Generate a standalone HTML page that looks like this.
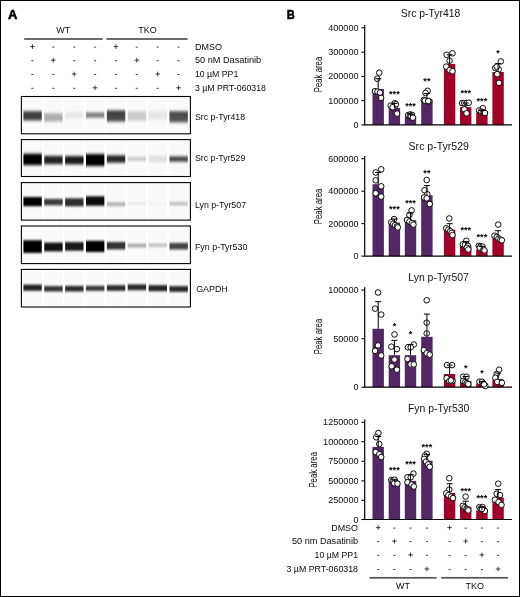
<!DOCTYPE html>
<html lang="en"><head><meta charset="utf-8"><title>Figure</title>
<style>
html,body{margin:0;padding:0;background:#fff;}
#fig{position:relative;width:520px;height:597px;box-sizing:border-box;border:1px solid #000;background:#fff;overflow:hidden;}
#fig svg{position:absolute;left:-1px;top:-1px;will-change:transform;}
text{font-family:"Liberation Sans", Arial, sans-serif;}
</style></head><body>
<div id="fig">
<svg width="520" height="597" viewBox="0 0 520 597">
<text x="8.10" y="18.90" font-size="13.5" text-anchor="start" font-weight="bold" fill="#000" textLength="9.4" lengthAdjust="spacingAndGlyphs" stroke="#000" stroke-width="0.55">A</text>
<text x="286.70" y="19.20" font-size="13.5" text-anchor="start" font-weight="bold" fill="#000" textLength="8.0" lengthAdjust="spacingAndGlyphs" stroke="#000" stroke-width="0.55">B</text>
<text x="63.30" y="33.30" font-size="9" text-anchor="middle" font-weight="normal" fill="#0a0a0a" >WT</text>
<text x="147.40" y="33.30" font-size="9" text-anchor="middle" font-weight="normal" fill="#0a0a0a" >TKO</text>
<rect x="24.2" y="38.15" width="78.4" height="1.7" fill="#555"/>
<rect x="106.4" y="38.15" width="81.2" height="1.7" fill="#555"/>
<path d="M30.14 46.60h4.6M32.44 44.30v4.6" stroke="#2a2a2a" stroke-width="0.9" fill="none"/>
<path d="M52.20 47.10h2.2" stroke="#333" stroke-width="0.9" fill="none"/>
<path d="M73.08 47.10h2.2" stroke="#333" stroke-width="0.9" fill="none"/>
<path d="M93.94 47.10h2.2" stroke="#333" stroke-width="0.9" fill="none"/>
<path d="M113.61 46.60h4.6M115.91 44.30v4.6" stroke="#2a2a2a" stroke-width="0.9" fill="none"/>
<path d="M135.69 47.10h2.2" stroke="#333" stroke-width="0.9" fill="none"/>
<path d="M156.56 47.10h2.2" stroke="#333" stroke-width="0.9" fill="none"/>
<path d="M177.43 47.10h2.2" stroke="#333" stroke-width="0.9" fill="none"/>
<path d="M31.34 60.70h2.2" stroke="#333" stroke-width="0.9" fill="none"/>
<path d="M51.01 60.20h4.6M53.30 57.90v4.6" stroke="#2a2a2a" stroke-width="0.9" fill="none"/>
<path d="M73.08 60.70h2.2" stroke="#333" stroke-width="0.9" fill="none"/>
<path d="M93.94 60.70h2.2" stroke="#333" stroke-width="0.9" fill="none"/>
<path d="M114.81 60.70h2.2" stroke="#333" stroke-width="0.9" fill="none"/>
<path d="M134.48 60.20h4.6M136.78 57.90v4.6" stroke="#2a2a2a" stroke-width="0.9" fill="none"/>
<path d="M156.56 60.70h2.2" stroke="#333" stroke-width="0.9" fill="none"/>
<path d="M177.43 60.70h2.2" stroke="#333" stroke-width="0.9" fill="none"/>
<path d="M31.34 74.50h2.2" stroke="#333" stroke-width="0.9" fill="none"/>
<path d="M52.20 74.50h2.2" stroke="#333" stroke-width="0.9" fill="none"/>
<path d="M71.88 74.00h4.6M74.17 71.70v4.6" stroke="#2a2a2a" stroke-width="0.9" fill="none"/>
<path d="M93.94 74.50h2.2" stroke="#333" stroke-width="0.9" fill="none"/>
<path d="M114.81 74.50h2.2" stroke="#333" stroke-width="0.9" fill="none"/>
<path d="M135.69 74.50h2.2" stroke="#333" stroke-width="0.9" fill="none"/>
<path d="M155.35 74.00h4.6M157.66 71.70v4.6" stroke="#2a2a2a" stroke-width="0.9" fill="none"/>
<path d="M177.43 74.50h2.2" stroke="#333" stroke-width="0.9" fill="none"/>
<path d="M31.34 88.30h2.2" stroke="#333" stroke-width="0.9" fill="none"/>
<path d="M52.20 88.30h2.2" stroke="#333" stroke-width="0.9" fill="none"/>
<path d="M73.08 88.30h2.2" stroke="#333" stroke-width="0.9" fill="none"/>
<path d="M92.74 87.80h4.6M95.04 85.50v4.6" stroke="#2a2a2a" stroke-width="0.9" fill="none"/>
<path d="M114.81 88.30h2.2" stroke="#333" stroke-width="0.9" fill="none"/>
<path d="M135.69 88.30h2.2" stroke="#333" stroke-width="0.9" fill="none"/>
<path d="M156.56 88.30h2.2" stroke="#333" stroke-width="0.9" fill="none"/>
<path d="M176.22 87.80h4.6M178.53 85.50v4.6" stroke="#2a2a2a" stroke-width="0.9" fill="none"/>
<text x="194.90" y="49.50" font-size="8.7" text-anchor="start" font-weight="normal" fill="#0a0a0a" textLength="27.0" lengthAdjust="spacingAndGlyphs">DMSO</text>
<text x="194.90" y="63.00" font-size="8.7" text-anchor="start" font-weight="normal" fill="#0a0a0a" textLength="66.3" lengthAdjust="spacingAndGlyphs">50 nM Dasatinib</text>
<text x="194.90" y="76.80" font-size="8.7" text-anchor="start" font-weight="normal" fill="#0a0a0a" textLength="43.4" lengthAdjust="spacingAndGlyphs">10 µM PP1</text>
<text x="194.90" y="90.60" font-size="8.7" text-anchor="start" font-weight="normal" fill="#0a0a0a" textLength="71.1" lengthAdjust="spacingAndGlyphs">3 µM PRT-060318</text>
<defs><filter id="f0" x="-10%" y="-150%" width="120%" height="400%"><feGaussianBlur stdDeviation="0.55 1.8"/></filter><filter id="f1" x="-10%" y="-150%" width="120%" height="400%"><feGaussianBlur stdDeviation="0.55 1.5"/></filter><filter id="f2" x="-10%" y="-150%" width="120%" height="400%"><feGaussianBlur stdDeviation="0.55 1.0"/></filter><filter id="f3" x="-10%" y="-150%" width="120%" height="400%"><feGaussianBlur stdDeviation="0.55 1.2"/></filter><filter id="f4" x="-10%" y="-150%" width="120%" height="400%"><feGaussianBlur stdDeviation="0.55 0.8"/></filter></defs>
<rect x="21.4" y="96.5" width="169" height="37.30" fill="#ffffff"/>
<rect x="22.80" y="97.70" width="19.07" height="34.90" fill="#fafafa"/>
<rect x="43.67" y="97.70" width="19.07" height="34.90" fill="#fafafa"/>
<rect x="64.54" y="97.70" width="19.07" height="34.90" fill="#fafafa"/>
<rect x="85.41" y="97.70" width="19.07" height="34.90" fill="#fafafa"/>
<rect x="106.28" y="97.70" width="19.07" height="34.90" fill="#fafafa"/>
<rect x="127.15" y="97.70" width="19.07" height="34.90" fill="#fafafa"/>
<rect x="148.02" y="97.70" width="19.07" height="34.90" fill="#fafafa"/>
<rect x="168.89" y="97.70" width="19.07" height="34.90" fill="#fafafa"/>
<rect x="23.40" y="111.20" width="18.37" height="9.20" fill="#000" fill-opacity="0.74" filter="url(#f0)"/>
<rect x="44.27" y="113.30" width="18.37" height="8.20" fill="#000" fill-opacity="0.31" filter="url(#f0)"/>
<rect x="65.14" y="112.40" width="18.37" height="6.00" fill="#000" fill-opacity="0.08" filter="url(#f0)"/>
<rect x="86.01" y="112.50" width="18.37" height="5.20" fill="#000" fill-opacity="0.5" filter="url(#f0)"/>
<rect x="106.88" y="110.50" width="18.37" height="11.00" fill="#000" fill-opacity="0.7" filter="url(#f0)"/>
<rect x="106.88" y="111.20" width="18.37" height="4.40" fill="#000" fill-opacity="0.18" filter="url(#f0)"/>
<rect x="127.75" y="111.50" width="18.37" height="9.00" fill="#000" fill-opacity="0.19" filter="url(#f0)"/>
<rect x="148.62" y="111.50" width="18.37" height="8.00" fill="#000" fill-opacity="0.08" filter="url(#f0)"/>
<rect x="169.49" y="111.30" width="18.37" height="11.00" fill="#000" fill-opacity="0.66" filter="url(#f0)"/>
<rect x="169.49" y="112.20" width="18.37" height="4.40" fill="#000" fill-opacity="0.15" filter="url(#f0)"/>
<rect x="21.4" y="96.5" width="169" height="37.30" fill="none" stroke="#000" stroke-width="1.1"/>
<text x="194.90" y="119.50" font-size="8.7" text-anchor="start" font-weight="normal" fill="#0a0a0a" textLength="50.2" lengthAdjust="spacingAndGlyphs">Src p-Tyr418</text>
<rect x="21.4" y="139.6" width="169" height="36.90" fill="#ffffff"/>
<rect x="22.80" y="140.80" width="19.07" height="34.50" fill="#fafafa"/>
<rect x="43.67" y="140.80" width="19.07" height="34.50" fill="#fafafa"/>
<rect x="64.54" y="140.80" width="19.07" height="34.50" fill="#fafafa"/>
<rect x="85.41" y="140.80" width="19.07" height="34.50" fill="#fafafa"/>
<rect x="106.28" y="140.80" width="19.07" height="34.50" fill="#fafafa"/>
<rect x="127.15" y="140.80" width="19.07" height="34.50" fill="#fafafa"/>
<rect x="148.02" y="140.80" width="19.07" height="34.50" fill="#fafafa"/>
<rect x="168.89" y="140.80" width="19.07" height="34.50" fill="#fafafa"/>
<rect x="23.40" y="153.70" width="18.37" height="11.40" fill="#000" fill-opacity="1.0" filter="url(#f1)"/>
<rect x="44.27" y="155.90" width="18.37" height="8.20" fill="#000" fill-opacity="0.86" filter="url(#f1)"/>
<rect x="65.14" y="156.10" width="18.37" height="8.20" fill="#000" fill-opacity="0.9" filter="url(#f1)"/>
<rect x="86.01" y="154.00" width="18.37" height="12.00" fill="#000" fill-opacity="1.0" filter="url(#f1)"/>
<rect x="106.88" y="155.40" width="18.37" height="7.20" fill="#000" fill-opacity="0.86" filter="url(#f1)"/>
<rect x="127.75" y="157.50" width="18.37" height="3.00" fill="#000" fill-opacity="0.26" filter="url(#f1)"/>
<rect x="148.62" y="155.80" width="18.37" height="6.40" fill="#000" fill-opacity="0.1" filter="url(#f1)"/>
<rect x="169.49" y="156.40" width="18.37" height="5.20" fill="#000" fill-opacity="0.74" filter="url(#f1)"/>
<rect x="21.4" y="139.6" width="169" height="36.90" fill="none" stroke="#000" stroke-width="1.1"/>
<text x="194.90" y="161.40" font-size="8.7" text-anchor="start" font-weight="normal" fill="#0a0a0a" textLength="50.4" lengthAdjust="spacingAndGlyphs">Src p-Tyr529</text>
<rect x="21.4" y="182.6" width="169" height="37.50" fill="#ffffff"/>
<rect x="22.80" y="183.80" width="19.07" height="35.10" fill="#fafafa"/>
<rect x="43.67" y="183.80" width="19.07" height="35.10" fill="#fafafa"/>
<rect x="64.54" y="183.80" width="19.07" height="35.10" fill="#fafafa"/>
<rect x="85.41" y="183.80" width="19.07" height="35.10" fill="#fafafa"/>
<rect x="106.28" y="183.80" width="19.07" height="35.10" fill="#fafafa"/>
<rect x="127.15" y="183.80" width="19.07" height="35.10" fill="#fafafa"/>
<rect x="148.02" y="183.80" width="19.07" height="35.10" fill="#fafafa"/>
<rect x="168.89" y="183.80" width="19.07" height="35.10" fill="#fafafa"/>
<rect x="23.40" y="197.00" width="18.37" height="9.20" fill="#000" fill-opacity="1.0" filter="url(#f2)"/>
<rect x="44.27" y="198.90" width="18.37" height="6.40" fill="#000" fill-opacity="0.76" filter="url(#f2)"/>
<rect x="65.14" y="198.30" width="18.37" height="8.00" fill="#000" fill-opacity="0.82" filter="url(#f2)"/>
<rect x="86.01" y="196.30" width="18.37" height="9.40" fill="#000" fill-opacity="0.96" filter="url(#f2)"/>
<rect x="106.88" y="202.10" width="18.37" height="4.20" fill="#000" fill-opacity="0.28" filter="url(#f2)"/>
<rect x="127.75" y="201.90" width="18.37" height="3.20" fill="#000" fill-opacity="0.06" filter="url(#f2)"/>
<rect x="148.62" y="202.00" width="18.37" height="3.00" fill="#000" fill-opacity="0.03" filter="url(#f2)"/>
<rect x="169.49" y="201.90" width="18.37" height="3.60" fill="#000" fill-opacity="0.23" filter="url(#f2)"/>
<rect x="21.4" y="182.6" width="169" height="37.50" fill="none" stroke="#000" stroke-width="1.1"/>
<text x="194.90" y="207.80" font-size="8.7" text-anchor="start" font-weight="normal" fill="#0a0a0a" textLength="51.2" lengthAdjust="spacingAndGlyphs">Lyn p-Tyr507</text>
<rect x="21.4" y="226.0" width="169" height="37.60" fill="#ffffff"/>
<rect x="22.80" y="227.20" width="19.07" height="35.20" fill="#fafafa"/>
<rect x="43.67" y="227.20" width="19.07" height="35.20" fill="#fafafa"/>
<rect x="64.54" y="227.20" width="19.07" height="35.20" fill="#fafafa"/>
<rect x="85.41" y="227.20" width="19.07" height="35.20" fill="#fafafa"/>
<rect x="106.28" y="227.20" width="19.07" height="35.20" fill="#fafafa"/>
<rect x="127.15" y="227.20" width="19.07" height="35.20" fill="#fafafa"/>
<rect x="148.02" y="227.20" width="19.07" height="35.20" fill="#fafafa"/>
<rect x="168.89" y="227.20" width="19.07" height="35.20" fill="#fafafa"/>
<rect x="23.40" y="240.30" width="18.37" height="12.60" fill="#000" fill-opacity="1.0" filter="url(#f3)"/>
<rect x="44.27" y="242.60" width="18.37" height="8.80" fill="#000" fill-opacity="0.93" filter="url(#f3)"/>
<rect x="65.14" y="242.10" width="18.37" height="8.60" fill="#000" fill-opacity="0.9" filter="url(#f3)"/>
<rect x="86.01" y="240.80" width="18.37" height="11.20" fill="#000" fill-opacity="1.0" filter="url(#f3)"/>
<rect x="106.88" y="242.00" width="18.37" height="7.40" fill="#000" fill-opacity="0.8" filter="url(#f3)"/>
<rect x="127.75" y="243.70" width="18.37" height="3.60" fill="#000" fill-opacity="0.34" filter="url(#f3)"/>
<rect x="148.62" y="243.60" width="18.37" height="3.20" fill="#000" fill-opacity="0.25" filter="url(#f3)"/>
<rect x="169.49" y="242.90" width="18.37" height="6.60" fill="#000" fill-opacity="0.72" filter="url(#f3)"/>
<rect x="21.4" y="226.0" width="169" height="37.60" fill="none" stroke="#000" stroke-width="1.1"/>
<text x="194.90" y="250.40" font-size="8.7" text-anchor="start" font-weight="normal" fill="#0a0a0a" textLength="52.5" lengthAdjust="spacingAndGlyphs">Fyn p-Tyr530</text>
<rect x="21.4" y="269.4" width="169" height="37.60" fill="#ffffff"/>
<rect x="22.80" y="270.60" width="19.07" height="35.20" fill="#fafafa"/>
<rect x="43.67" y="270.60" width="19.07" height="35.20" fill="#fafafa"/>
<rect x="64.54" y="270.60" width="19.07" height="35.20" fill="#fafafa"/>
<rect x="85.41" y="270.60" width="19.07" height="35.20" fill="#fafafa"/>
<rect x="106.28" y="270.60" width="19.07" height="35.20" fill="#fafafa"/>
<rect x="127.15" y="270.60" width="19.07" height="35.20" fill="#fafafa"/>
<rect x="148.02" y="270.60" width="19.07" height="35.20" fill="#fafafa"/>
<rect x="168.89" y="270.60" width="19.07" height="35.20" fill="#fafafa"/>
<rect x="23.40" y="284.60" width="18.37" height="6.20" fill="#000" fill-opacity="0.86" filter="url(#f4)"/>
<rect x="44.27" y="286.10" width="18.37" height="5.40" fill="#000" fill-opacity="0.8" filter="url(#f4)"/>
<rect x="65.14" y="285.90" width="18.37" height="5.60" fill="#000" fill-opacity="0.83" filter="url(#f4)"/>
<rect x="86.01" y="285.80" width="18.37" height="5.00" fill="#000" fill-opacity="0.78" filter="url(#f4)"/>
<rect x="106.88" y="285.20" width="18.37" height="5.60" fill="#000" fill-opacity="0.83" filter="url(#f4)"/>
<rect x="127.75" y="284.40" width="18.37" height="5.80" fill="#000" fill-opacity="0.84" filter="url(#f4)"/>
<rect x="148.62" y="285.20" width="18.37" height="6.00" fill="#000" fill-opacity="0.86" filter="url(#f4)"/>
<rect x="169.49" y="286.10" width="18.37" height="5.80" fill="#000" fill-opacity="0.83" filter="url(#f4)"/>
<rect x="21.4" y="269.4" width="169" height="37.60" fill="none" stroke="#000" stroke-width="1.1"/>
<text x="196.20" y="292.20" font-size="8.7" text-anchor="start" font-weight="normal" fill="#0a0a0a" textLength="31.6" lengthAdjust="spacingAndGlyphs">GAPDH</text>
<text x="400.8" y="17.3" font-size="11.2" fill="#111" textLength="59.6" lengthAdjust="spacingAndGlyphs">Src p-Tyr418</text>
<rect x="372.50" y="89.00" width="11.4" height="35.90" fill="#522763"/>
<rect x="388.70" y="108.00" width="11.4" height="16.90" fill="#522763"/>
<rect x="404.80" y="116.80" width="11.4" height="8.10" fill="#522763"/>
<rect x="421.20" y="99.50" width="11.4" height="25.40" fill="#522763"/>
<rect x="443.90" y="63.90" width="11.4" height="61.00" fill="#a30029"/>
<rect x="460.00" y="107.10" width="11.4" height="17.80" fill="#a30029"/>
<rect x="476.20" y="112.50" width="11.4" height="12.40" fill="#a30029"/>
<rect x="492.40" y="72.00" width="11.4" height="52.90" fill="#a30029"/>
<path d="M364.7 24.90V124.90H512" stroke="#000" stroke-width="1.2" fill="none"/>
<path d="M361.40 27.70H364.7" stroke="#000" stroke-width="1.1" fill="none"/>
<text x="358.5" y="30.70" font-size="8.3" text-anchor="end" fill="#0a0a0a" textLength="30.3" lengthAdjust="spacingAndGlyphs">400000</text>
<path d="M361.40 52.20H364.7" stroke="#000" stroke-width="1.1" fill="none"/>
<text x="358.5" y="55.20" font-size="8.3" text-anchor="end" fill="#0a0a0a" textLength="30.3" lengthAdjust="spacingAndGlyphs">300000</text>
<path d="M361.40 76.40H364.7" stroke="#000" stroke-width="1.1" fill="none"/>
<text x="358.5" y="79.40" font-size="8.3" text-anchor="end" fill="#0a0a0a" textLength="30.3" lengthAdjust="spacingAndGlyphs">200000</text>
<path d="M361.40 100.60H364.7" stroke="#000" stroke-width="1.1" fill="none"/>
<text x="358.5" y="103.60" font-size="8.3" text-anchor="end" fill="#0a0a0a" textLength="30.3" lengthAdjust="spacingAndGlyphs">100000</text>
<path d="M361.40 124.90H364.7" stroke="#000" stroke-width="1.1" fill="none"/>
<text x="358.5" y="127.90" font-size="8.3" text-anchor="end" fill="#0a0a0a" textLength="5.0" lengthAdjust="spacingAndGlyphs">0</text>
<text transform="translate(321.80 74.50) rotate(-90)" font-size="10.2" text-anchor="middle" fill="#0a0a0a" textLength="35.6" lengthAdjust="spacingAndGlyphs">Peak area</text>
<circle cx="379.2" cy="72.7" r="2.8" fill="#fff" stroke="#000" stroke-width="0.95"/>
<circle cx="377.2" cy="78.7" r="2.8" fill="#fff" stroke="#000" stroke-width="0.95"/>
<circle cx="375.0" cy="91.2" r="2.8" fill="#fff" stroke="#000" stroke-width="0.95"/>
<circle cx="377.5" cy="91.6" r="2.8" fill="#fff" stroke="#000" stroke-width="0.95"/>
<circle cx="380.0" cy="92.6" r="2.8" fill="#fff" stroke="#000" stroke-width="0.95"/>
<circle cx="381.1" cy="97.9" r="2.8" fill="#fff" stroke="#000" stroke-width="0.95"/>
<circle cx="390.7" cy="105.6" r="2.8" fill="#fff" stroke="#000" stroke-width="0.95"/>
<circle cx="394.8" cy="103.2" r="2.8" fill="#fff" stroke="#000" stroke-width="0.95"/>
<circle cx="394.8" cy="106.4" r="2.8" fill="#fff" stroke="#000" stroke-width="0.95"/>
<circle cx="395.9" cy="104.3" r="2.8" fill="#fff" stroke="#000" stroke-width="0.95"/>
<circle cx="392.6" cy="107.2" r="2.8" fill="#fff" stroke="#000" stroke-width="0.95"/>
<circle cx="397.1" cy="113.6" r="2.8" fill="#fff" stroke="#000" stroke-width="0.95"/>
<circle cx="408.2" cy="115.0" r="2.8" fill="#fff" stroke="#000" stroke-width="0.95"/>
<circle cx="410.4" cy="114.4" r="2.8" fill="#fff" stroke="#000" stroke-width="0.95"/>
<circle cx="412.0" cy="115.0" r="2.8" fill="#fff" stroke="#000" stroke-width="0.95"/>
<circle cx="409.8" cy="116.1" r="2.8" fill="#fff" stroke="#000" stroke-width="0.95"/>
<circle cx="411.2" cy="116.4" r="2.8" fill="#fff" stroke="#000" stroke-width="0.95"/>
<circle cx="412.9" cy="117.7" r="2.8" fill="#fff" stroke="#000" stroke-width="0.95"/>
<circle cx="427.6" cy="90.8" r="2.8" fill="#fff" stroke="#000" stroke-width="0.95"/>
<circle cx="425.5" cy="92.9" r="2.8" fill="#fff" stroke="#000" stroke-width="0.95"/>
<circle cx="423.8" cy="99.9" r="2.8" fill="#fff" stroke="#000" stroke-width="0.95"/>
<circle cx="429.2" cy="101.5" r="2.8" fill="#fff" stroke="#000" stroke-width="0.95"/>
<circle cx="424.9" cy="100.6" r="2.8" fill="#fff" stroke="#000" stroke-width="0.95"/>
<circle cx="428.2" cy="101.0" r="2.8" fill="#fff" stroke="#000" stroke-width="0.95"/>
<circle cx="446.6" cy="54.8" r="2.8" fill="#fff" stroke="#000" stroke-width="0.95"/>
<circle cx="452.5" cy="53.3" r="2.8" fill="#fff" stroke="#000" stroke-width="0.95"/>
<circle cx="449.6" cy="60.7" r="2.8" fill="#fff" stroke="#000" stroke-width="0.95"/>
<circle cx="446.2" cy="66.6" r="2.8" fill="#fff" stroke="#000" stroke-width="0.95"/>
<circle cx="449.6" cy="70.2" r="2.8" fill="#fff" stroke="#000" stroke-width="0.95"/>
<circle cx="452.5" cy="71.3" r="2.8" fill="#fff" stroke="#000" stroke-width="0.95"/>
<circle cx="462.1" cy="103.1" r="2.8" fill="#fff" stroke="#000" stroke-width="0.95"/>
<circle cx="464.3" cy="103.1" r="2.8" fill="#fff" stroke="#000" stroke-width="0.95"/>
<circle cx="466.6" cy="103.1" r="2.8" fill="#fff" stroke="#000" stroke-width="0.95"/>
<circle cx="468.8" cy="102.7" r="2.8" fill="#fff" stroke="#000" stroke-width="0.95"/>
<circle cx="464.3" cy="109.3" r="2.8" fill="#fff" stroke="#000" stroke-width="0.95"/>
<circle cx="466.6" cy="113.3" r="2.8" fill="#fff" stroke="#000" stroke-width="0.95"/>
<circle cx="482.8" cy="108.2" r="2.8" fill="#fff" stroke="#000" stroke-width="0.95"/>
<circle cx="479.1" cy="110.5" r="2.8" fill="#fff" stroke="#000" stroke-width="0.95"/>
<circle cx="481.0" cy="111.6" r="2.8" fill="#fff" stroke="#000" stroke-width="0.95"/>
<circle cx="482.8" cy="112.3" r="2.8" fill="#fff" stroke="#000" stroke-width="0.95"/>
<circle cx="484.3" cy="113.0" r="2.8" fill="#fff" stroke="#000" stroke-width="0.95"/>
<circle cx="485.0" cy="113.0" r="2.8" fill="#fff" stroke="#000" stroke-width="0.95"/>
<circle cx="500.8" cy="61.4" r="2.8" fill="#fff" stroke="#000" stroke-width="0.95"/>
<circle cx="495.3" cy="68.0" r="2.8" fill="#fff" stroke="#000" stroke-width="0.95"/>
<circle cx="498.7" cy="69.5" r="2.8" fill="#fff" stroke="#000" stroke-width="0.95"/>
<circle cx="496.8" cy="66.6" r="2.8" fill="#fff" stroke="#000" stroke-width="0.95"/>
<circle cx="497.2" cy="74.2" r="2.8" fill="#fff" stroke="#000" stroke-width="0.95"/>
<circle cx="499.0" cy="82.8" r="2.8" fill="#fff" stroke="#000" stroke-width="0.95"/>
<path d="M378.20 89.00V78.70M375.20 78.70h6" stroke="#000" stroke-width="1.0" fill="none"/>
<path d="M394.40 108.00V103.40M391.40 103.40h6" stroke="#000" stroke-width="1.0" fill="none"/>
<path d="M410.50 116.80V114.20M407.50 114.20h6" stroke="#000" stroke-width="1.0" fill="none"/>
<path d="M426.90 99.50V93.50M423.90 93.50h6" stroke="#000" stroke-width="1.0" fill="none"/>
<path d="M449.60 63.90V54.80M446.60 54.80h6" stroke="#000" stroke-width="1.0" fill="none"/>
<path d="M465.70 107.10V103.00M462.70 103.00h6" stroke="#000" stroke-width="1.0" fill="none"/>
<path d="M481.90 112.50V110.30M478.90 110.30h6" stroke="#000" stroke-width="1.0" fill="none"/>
<path d="M498.10 72.00V63.60M495.10 63.60h6" stroke="#000" stroke-width="1.0" fill="none"/>
<text x="394.40" y="97.40" font-size="9.0" text-anchor="middle" font-weight="bold" fill="#000" textLength="10.65" lengthAdjust="spacingAndGlyphs">***</text>
<text x="410.50" y="108.60" font-size="9.0" text-anchor="middle" font-weight="bold" fill="#000" textLength="10.65" lengthAdjust="spacingAndGlyphs">***</text>
<text x="426.90" y="84.00" font-size="9.0" text-anchor="middle" font-weight="bold" fill="#000" textLength="7.10" lengthAdjust="spacingAndGlyphs">**</text>
<text x="465.70" y="96.20" font-size="9.0" text-anchor="middle" font-weight="bold" fill="#000" textLength="10.65" lengthAdjust="spacingAndGlyphs">***</text>
<text x="481.90" y="103.60" font-size="9.0" text-anchor="middle" font-weight="bold" fill="#000" textLength="10.65" lengthAdjust="spacingAndGlyphs">***</text>
<text x="498.10" y="55.80" font-size="9.0" text-anchor="middle" font-weight="bold" fill="#000" >*</text>
<text x="408.6" y="149.8" font-size="11.2" fill="#111" textLength="60.3" lengthAdjust="spacingAndGlyphs">Src p-Tyr529</text>
<rect x="372.50" y="184.20" width="11.4" height="71.90" fill="#522763"/>
<rect x="388.70" y="222.60" width="11.4" height="33.50" fill="#522763"/>
<rect x="404.80" y="220.20" width="11.4" height="35.90" fill="#522763"/>
<rect x="421.20" y="195.30" width="11.4" height="60.80" fill="#522763"/>
<rect x="443.90" y="229.60" width="11.4" height="26.50" fill="#a30029"/>
<rect x="460.00" y="245.80" width="11.4" height="10.30" fill="#a30029"/>
<rect x="476.20" y="249.50" width="11.4" height="6.60" fill="#a30029"/>
<rect x="492.40" y="237.50" width="11.4" height="18.60" fill="#a30029"/>
<path d="M364.7 156.10V256.10H512" stroke="#000" stroke-width="1.2" fill="none"/>
<path d="M361.40 158.70H364.7" stroke="#000" stroke-width="1.1" fill="none"/>
<text x="358.5" y="161.70" font-size="8.3" text-anchor="end" fill="#0a0a0a" textLength="30.3" lengthAdjust="spacingAndGlyphs">600000</text>
<path d="M361.40 191.20H364.7" stroke="#000" stroke-width="1.1" fill="none"/>
<text x="358.5" y="194.20" font-size="8.3" text-anchor="end" fill="#0a0a0a" textLength="30.3" lengthAdjust="spacingAndGlyphs">400000</text>
<path d="M361.40 223.60H364.7" stroke="#000" stroke-width="1.1" fill="none"/>
<text x="358.5" y="226.60" font-size="8.3" text-anchor="end" fill="#0a0a0a" textLength="30.3" lengthAdjust="spacingAndGlyphs">200000</text>
<path d="M361.40 256.10H364.7" stroke="#000" stroke-width="1.1" fill="none"/>
<text x="358.5" y="259.10" font-size="8.3" text-anchor="end" fill="#0a0a0a" textLength="5.0" lengthAdjust="spacingAndGlyphs">0</text>
<text transform="translate(321.90 206.40) rotate(-90)" font-size="10.2" text-anchor="middle" fill="#0a0a0a" textLength="35.6" lengthAdjust="spacingAndGlyphs">Peak area</text>
<circle cx="381.2" cy="169.3" r="2.8" fill="#fff" stroke="#000" stroke-width="0.95"/>
<circle cx="375.7" cy="172.5" r="2.8" fill="#fff" stroke="#000" stroke-width="0.95"/>
<circle cx="375.7" cy="180.4" r="2.8" fill="#fff" stroke="#000" stroke-width="0.95"/>
<circle cx="381.2" cy="186.3" r="2.8" fill="#fff" stroke="#000" stroke-width="0.95"/>
<circle cx="375.7" cy="193.3" r="2.8" fill="#fff" stroke="#000" stroke-width="0.95"/>
<circle cx="381.2" cy="196.6" r="2.8" fill="#fff" stroke="#000" stroke-width="0.95"/>
<circle cx="394.1" cy="219.1" r="2.8" fill="#fff" stroke="#000" stroke-width="0.95"/>
<circle cx="391.3" cy="222.2" r="2.8" fill="#fff" stroke="#000" stroke-width="0.95"/>
<circle cx="393.2" cy="223.7" r="2.8" fill="#fff" stroke="#000" stroke-width="0.95"/>
<circle cx="395.0" cy="225.2" r="2.8" fill="#fff" stroke="#000" stroke-width="0.95"/>
<circle cx="396.9" cy="226.5" r="2.8" fill="#fff" stroke="#000" stroke-width="0.95"/>
<circle cx="397.8" cy="227.4" r="2.8" fill="#fff" stroke="#000" stroke-width="0.95"/>
<circle cx="411.6" cy="210.4" r="2.8" fill="#fff" stroke="#000" stroke-width="0.95"/>
<circle cx="409.4" cy="214.9" r="2.8" fill="#fff" stroke="#000" stroke-width="0.95"/>
<circle cx="407.0" cy="220.0" r="2.8" fill="#fff" stroke="#000" stroke-width="0.95"/>
<circle cx="409.4" cy="221.5" r="2.8" fill="#fff" stroke="#000" stroke-width="0.95"/>
<circle cx="411.8" cy="223.2" r="2.8" fill="#fff" stroke="#000" stroke-width="0.95"/>
<circle cx="413.4" cy="224.6" r="2.8" fill="#fff" stroke="#000" stroke-width="0.95"/>
<circle cx="426.7" cy="180.0" r="2.8" fill="#fff" stroke="#000" stroke-width="0.95"/>
<circle cx="424.5" cy="190.2" r="2.8" fill="#fff" stroke="#000" stroke-width="0.95"/>
<circle cx="427.3" cy="194.2" r="2.8" fill="#fff" stroke="#000" stroke-width="0.95"/>
<circle cx="424.1" cy="197.5" r="2.8" fill="#fff" stroke="#000" stroke-width="0.95"/>
<circle cx="426.7" cy="198.3" r="2.8" fill="#fff" stroke="#000" stroke-width="0.95"/>
<circle cx="429.7" cy="204.0" r="2.8" fill="#fff" stroke="#000" stroke-width="0.95"/>
<circle cx="449.3" cy="218.5" r="2.8" fill="#fff" stroke="#000" stroke-width="0.95"/>
<circle cx="446.2" cy="228.3" r="2.8" fill="#fff" stroke="#000" stroke-width="0.95"/>
<circle cx="448.4" cy="229.6" r="2.8" fill="#fff" stroke="#000" stroke-width="0.95"/>
<circle cx="450.3" cy="231.1" r="2.8" fill="#fff" stroke="#000" stroke-width="0.95"/>
<circle cx="451.7" cy="232.9" r="2.8" fill="#fff" stroke="#000" stroke-width="0.95"/>
<circle cx="452.5" cy="235.1" r="2.8" fill="#fff" stroke="#000" stroke-width="0.95"/>
<circle cx="466.3" cy="240.8" r="2.8" fill="#fff" stroke="#000" stroke-width="0.95"/>
<circle cx="462.8" cy="244.3" r="2.8" fill="#fff" stroke="#000" stroke-width="0.95"/>
<circle cx="465.0" cy="244.9" r="2.8" fill="#fff" stroke="#000" stroke-width="0.95"/>
<circle cx="467.8" cy="245.8" r="2.8" fill="#fff" stroke="#000" stroke-width="0.95"/>
<circle cx="466.9" cy="247.7" r="2.8" fill="#fff" stroke="#000" stroke-width="0.95"/>
<circle cx="468.3" cy="249.5" r="2.8" fill="#fff" stroke="#000" stroke-width="0.95"/>
<circle cx="478.8" cy="245.8" r="2.8" fill="#fff" stroke="#000" stroke-width="0.95"/>
<circle cx="480.7" cy="246.2" r="2.8" fill="#fff" stroke="#000" stroke-width="0.95"/>
<circle cx="482.5" cy="246.7" r="2.8" fill="#fff" stroke="#000" stroke-width="0.95"/>
<circle cx="479.8" cy="247.7" r="2.8" fill="#fff" stroke="#000" stroke-width="0.95"/>
<circle cx="483.4" cy="249.5" r="2.8" fill="#fff" stroke="#000" stroke-width="0.95"/>
<circle cx="484.4" cy="250.4" r="2.8" fill="#fff" stroke="#000" stroke-width="0.95"/>
<circle cx="498.2" cy="224.6" r="2.8" fill="#fff" stroke="#000" stroke-width="0.95"/>
<circle cx="494.5" cy="235.7" r="2.8" fill="#fff" stroke="#000" stroke-width="0.95"/>
<circle cx="496.7" cy="237.0" r="2.8" fill="#fff" stroke="#000" stroke-width="0.95"/>
<circle cx="498.5" cy="238.4" r="2.8" fill="#fff" stroke="#000" stroke-width="0.95"/>
<circle cx="500.4" cy="239.7" r="2.8" fill="#fff" stroke="#000" stroke-width="0.95"/>
<circle cx="501.9" cy="240.3" r="2.8" fill="#fff" stroke="#000" stroke-width="0.95"/>
<path d="M378.20 184.20V172.50M375.20 172.50h6" stroke="#000" stroke-width="1.0" fill="none"/>
<path d="M394.40 222.60V219.00M391.40 219.00h6" stroke="#000" stroke-width="1.0" fill="none"/>
<path d="M410.50 220.20V213.00M407.50 213.00h6" stroke="#000" stroke-width="1.0" fill="none"/>
<path d="M426.90 195.30V185.60M423.90 185.60h6" stroke="#000" stroke-width="1.0" fill="none"/>
<path d="M449.60 229.60V223.70M446.60 223.70h6" stroke="#000" stroke-width="1.0" fill="none"/>
<path d="M465.70 245.80V241.50M462.70 241.50h6" stroke="#000" stroke-width="1.0" fill="none"/>
<path d="M481.90 249.50V246.50M478.90 246.50h6" stroke="#000" stroke-width="1.0" fill="none"/>
<path d="M498.10 237.50V230.70M495.10 230.70h6" stroke="#000" stroke-width="1.0" fill="none"/>
<text x="394.40" y="212.40" font-size="9.0" text-anchor="middle" font-weight="bold" fill="#000" textLength="10.65" lengthAdjust="spacingAndGlyphs">***</text>
<text x="410.50" y="206.00" font-size="9.0" text-anchor="middle" font-weight="bold" fill="#000" textLength="10.65" lengthAdjust="spacingAndGlyphs">***</text>
<text x="426.90" y="176.10" font-size="9.0" text-anchor="middle" font-weight="bold" fill="#000" textLength="7.10" lengthAdjust="spacingAndGlyphs">**</text>
<text x="465.70" y="233.30" font-size="9.0" text-anchor="middle" font-weight="bold" fill="#000" textLength="10.65" lengthAdjust="spacingAndGlyphs">***</text>
<text x="481.90" y="240.10" font-size="9.0" text-anchor="middle" font-weight="bold" fill="#000" textLength="10.65" lengthAdjust="spacingAndGlyphs">***</text>
<text x="408.3" y="280.9" font-size="11.2" fill="#111" textLength="60.5" lengthAdjust="spacingAndGlyphs">Lyn p-Tyr507</text>
<rect x="372.50" y="328.80" width="11.4" height="58.40" fill="#522763"/>
<rect x="388.70" y="355.20" width="11.4" height="32.00" fill="#522763"/>
<rect x="404.80" y="355.20" width="11.4" height="32.00" fill="#522763"/>
<rect x="421.20" y="336.80" width="11.4" height="50.40" fill="#522763"/>
<rect x="443.90" y="374.00" width="11.4" height="13.20" fill="#a30029"/>
<rect x="460.00" y="381.00" width="11.4" height="6.20" fill="#a30029"/>
<rect x="476.20" y="383.60" width="11.4" height="3.60" fill="#a30029"/>
<rect x="492.40" y="379.50" width="11.4" height="7.70" fill="#a30029"/>
<path d="M364.7 287.20V387.20H512" stroke="#000" stroke-width="1.2" fill="none"/>
<path d="M361.40 290.10H364.7" stroke="#000" stroke-width="1.1" fill="none"/>
<text x="358.5" y="293.10" font-size="8.3" text-anchor="end" fill="#0a0a0a" textLength="30.3" lengthAdjust="spacingAndGlyphs">100000</text>
<path d="M361.40 338.70H364.7" stroke="#000" stroke-width="1.1" fill="none"/>
<text x="358.5" y="341.70" font-size="8.3" text-anchor="end" fill="#0a0a0a" textLength="25.2" lengthAdjust="spacingAndGlyphs">50000</text>
<path d="M361.40 387.20H364.7" stroke="#000" stroke-width="1.1" fill="none"/>
<text x="358.5" y="390.20" font-size="8.3" text-anchor="end" fill="#0a0a0a" textLength="5.0" lengthAdjust="spacingAndGlyphs">0</text>
<text transform="translate(322.10 336.50) rotate(-90)" font-size="10.2" text-anchor="middle" fill="#0a0a0a" textLength="35.6" lengthAdjust="spacingAndGlyphs">Peak area</text>
<circle cx="378.0" cy="292.5" r="2.8" fill="#fff" stroke="#000" stroke-width="0.95"/>
<circle cx="375.1" cy="308.6" r="2.8" fill="#fff" stroke="#000" stroke-width="0.95"/>
<circle cx="381.2" cy="314.6" r="2.8" fill="#fff" stroke="#000" stroke-width="0.95"/>
<circle cx="378.0" cy="345.4" r="2.8" fill="#fff" stroke="#000" stroke-width="0.95"/>
<circle cx="375.1" cy="350.9" r="2.8" fill="#fff" stroke="#000" stroke-width="0.95"/>
<circle cx="381.2" cy="355.5" r="2.8" fill="#fff" stroke="#000" stroke-width="0.95"/>
<circle cx="394.5" cy="334.4" r="2.8" fill="#fff" stroke="#000" stroke-width="0.95"/>
<circle cx="391.3" cy="346.7" r="2.8" fill="#fff" stroke="#000" stroke-width="0.95"/>
<circle cx="396.9" cy="349.1" r="2.8" fill="#fff" stroke="#000" stroke-width="0.95"/>
<circle cx="394.5" cy="359.6" r="2.8" fill="#fff" stroke="#000" stroke-width="0.95"/>
<circle cx="391.7" cy="366.2" r="2.8" fill="#fff" stroke="#000" stroke-width="0.95"/>
<circle cx="396.9" cy="369.7" r="2.8" fill="#fff" stroke="#000" stroke-width="0.95"/>
<circle cx="413.8" cy="344.5" r="2.8" fill="#fff" stroke="#000" stroke-width="0.95"/>
<circle cx="407.9" cy="347.3" r="2.8" fill="#fff" stroke="#000" stroke-width="0.95"/>
<circle cx="410.7" cy="347.3" r="2.8" fill="#fff" stroke="#000" stroke-width="0.95"/>
<circle cx="407.5" cy="358.9" r="2.8" fill="#fff" stroke="#000" stroke-width="0.95"/>
<circle cx="410.7" cy="364.4" r="2.8" fill="#fff" stroke="#000" stroke-width="0.95"/>
<circle cx="413.8" cy="364.4" r="2.8" fill="#fff" stroke="#000" stroke-width="0.95"/>
<circle cx="426.7" cy="300.3" r="2.8" fill="#fff" stroke="#000" stroke-width="0.95"/>
<circle cx="426.7" cy="322.7" r="2.8" fill="#fff" stroke="#000" stroke-width="0.95"/>
<circle cx="426.7" cy="333.4" r="2.8" fill="#fff" stroke="#000" stroke-width="0.95"/>
<circle cx="423.9" cy="350.0" r="2.8" fill="#fff" stroke="#000" stroke-width="0.95"/>
<circle cx="426.7" cy="353.3" r="2.8" fill="#fff" stroke="#000" stroke-width="0.95"/>
<circle cx="429.7" cy="354.6" r="2.8" fill="#fff" stroke="#000" stroke-width="0.95"/>
<circle cx="447.0" cy="365.1" r="2.8" fill="#fff" stroke="#000" stroke-width="0.95"/>
<circle cx="452.1" cy="365.1" r="2.8" fill="#fff" stroke="#000" stroke-width="0.95"/>
<circle cx="446.6" cy="378.2" r="2.8" fill="#fff" stroke="#000" stroke-width="0.95"/>
<circle cx="449.3" cy="381.0" r="2.8" fill="#fff" stroke="#000" stroke-width="0.95"/>
<circle cx="452.5" cy="381.0" r="2.8" fill="#fff" stroke="#000" stroke-width="0.95"/>
<circle cx="450.9" cy="380.4" r="2.8" fill="#fff" stroke="#000" stroke-width="0.95"/>
<circle cx="463.2" cy="376.7" r="2.8" fill="#fff" stroke="#000" stroke-width="0.95"/>
<circle cx="466.5" cy="376.7" r="2.8" fill="#fff" stroke="#000" stroke-width="0.95"/>
<circle cx="463.2" cy="381.0" r="2.8" fill="#fff" stroke="#000" stroke-width="0.95"/>
<circle cx="465.4" cy="381.9" r="2.8" fill="#fff" stroke="#000" stroke-width="0.95"/>
<circle cx="466.9" cy="383.2" r="2.8" fill="#fff" stroke="#000" stroke-width="0.95"/>
<circle cx="468.3" cy="384.1" r="2.8" fill="#fff" stroke="#000" stroke-width="0.95"/>
<circle cx="479.4" cy="381.7" r="2.8" fill="#fff" stroke="#000" stroke-width="0.95"/>
<circle cx="482.0" cy="381.7" r="2.8" fill="#fff" stroke="#000" stroke-width="0.95"/>
<circle cx="483.4" cy="383.6" r="2.8" fill="#fff" stroke="#000" stroke-width="0.95"/>
<circle cx="484.4" cy="385.0" r="2.8" fill="#fff" stroke="#000" stroke-width="0.95"/>
<circle cx="485.3" cy="386.0" r="2.8" fill="#fff" stroke="#000" stroke-width="0.95"/>
<circle cx="484.0" cy="384.4" r="2.8" fill="#fff" stroke="#000" stroke-width="0.95"/>
<circle cx="499.1" cy="369.7" r="2.8" fill="#fff" stroke="#000" stroke-width="0.95"/>
<circle cx="496.7" cy="374.0" r="2.8" fill="#fff" stroke="#000" stroke-width="0.95"/>
<circle cx="495.4" cy="377.7" r="2.8" fill="#fff" stroke="#000" stroke-width="0.95"/>
<circle cx="500.9" cy="382.3" r="2.8" fill="#fff" stroke="#000" stroke-width="0.95"/>
<circle cx="497.3" cy="381.9" r="2.8" fill="#fff" stroke="#000" stroke-width="0.95"/>
<circle cx="501.9" cy="382.8" r="2.8" fill="#fff" stroke="#000" stroke-width="0.95"/>
<path d="M378.20 328.80V301.70M375.20 301.70h6" stroke="#000" stroke-width="1.0" fill="none"/>
<path d="M394.40 355.20V340.40M391.40 340.40h6" stroke="#000" stroke-width="1.0" fill="none"/>
<path d="M410.50 355.20V344.50M407.50 344.50h6" stroke="#000" stroke-width="1.0" fill="none"/>
<path d="M426.90 336.80V314.10M423.90 314.10h6" stroke="#000" stroke-width="1.0" fill="none"/>
<path d="M449.60 374.00V365.10M446.60 365.10h6" stroke="#000" stroke-width="1.0" fill="none"/>
<path d="M465.70 381.00V376.50M462.70 376.50h6" stroke="#000" stroke-width="1.0" fill="none"/>
<path d="M481.90 383.60V381.50M478.90 381.50h6" stroke="#000" stroke-width="1.0" fill="none"/>
<path d="M498.10 379.50V373.00M495.10 373.00h6" stroke="#000" stroke-width="1.0" fill="none"/>
<text x="394.40" y="328.60" font-size="9.0" text-anchor="middle" font-weight="bold" fill="#000" >*</text>
<text x="410.50" y="337.40" font-size="9.0" text-anchor="middle" font-weight="bold" fill="#000" >*</text>
<text x="465.70" y="371.40" font-size="9.0" text-anchor="middle" font-weight="bold" fill="#000" >*</text>
<text x="481.90" y="375.60" font-size="9.0" text-anchor="middle" font-weight="bold" fill="#000" >*</text>
<text x="407.9" y="411.9" font-size="11.2" fill="#111" textLength="61.5" lengthAdjust="spacingAndGlyphs">Fyn p-Tyr530</text>
<rect x="372.50" y="446.90" width="11.4" height="72.60" fill="#522763"/>
<rect x="388.70" y="481.90" width="11.4" height="37.60" fill="#522763"/>
<rect x="404.80" y="480.90" width="11.4" height="38.60" fill="#522763"/>
<rect x="421.20" y="460.70" width="11.4" height="58.80" fill="#522763"/>
<rect x="443.90" y="492.90" width="11.4" height="26.60" fill="#a30029"/>
<rect x="460.00" y="506.70" width="11.4" height="12.80" fill="#a30029"/>
<rect x="476.20" y="510.40" width="11.4" height="9.10" fill="#a30029"/>
<rect x="492.40" y="497.50" width="11.4" height="22.00" fill="#a30029"/>
<path d="M364.7 419.50V519.50H512" stroke="#000" stroke-width="1.2" fill="none"/>
<path d="M361.40 422.30H364.7" stroke="#000" stroke-width="1.1" fill="none"/>
<text x="358.5" y="425.30" font-size="8.3" text-anchor="end" fill="#0a0a0a" textLength="35.4" lengthAdjust="spacingAndGlyphs">1250000</text>
<path d="M361.40 441.70H364.7" stroke="#000" stroke-width="1.1" fill="none"/>
<text x="358.5" y="444.70" font-size="8.3" text-anchor="end" fill="#0a0a0a" textLength="35.4" lengthAdjust="spacingAndGlyphs">1000000</text>
<path d="M361.40 461.30H364.7" stroke="#000" stroke-width="1.1" fill="none"/>
<text x="358.5" y="464.30" font-size="8.3" text-anchor="end" fill="#0a0a0a" textLength="30.3" lengthAdjust="spacingAndGlyphs">750000</text>
<path d="M361.40 480.90H364.7" stroke="#000" stroke-width="1.1" fill="none"/>
<text x="358.5" y="483.90" font-size="8.3" text-anchor="end" fill="#0a0a0a" textLength="30.3" lengthAdjust="spacingAndGlyphs">500000</text>
<path d="M361.40 500.30H364.7" stroke="#000" stroke-width="1.1" fill="none"/>
<text x="358.5" y="503.30" font-size="8.3" text-anchor="end" fill="#0a0a0a" textLength="30.3" lengthAdjust="spacingAndGlyphs">250000</text>
<path d="M361.40 519.50H364.7" stroke="#000" stroke-width="1.1" fill="none"/>
<text x="358.5" y="522.50" font-size="8.3" text-anchor="end" fill="#0a0a0a" textLength="5.0" lengthAdjust="spacingAndGlyphs">0</text>
<text transform="translate(317.10 469.80) rotate(-90)" font-size="10.2" text-anchor="middle" fill="#0a0a0a" textLength="35.6" lengthAdjust="spacingAndGlyphs">Peak area</text>
<circle cx="378.4" cy="433.0" r="2.8" fill="#fff" stroke="#000" stroke-width="0.95"/>
<circle cx="376.2" cy="437.3" r="2.8" fill="#fff" stroke="#000" stroke-width="0.95"/>
<circle cx="379.3" cy="444.1" r="2.8" fill="#fff" stroke="#000" stroke-width="0.95"/>
<circle cx="375.7" cy="452.0" r="2.8" fill="#fff" stroke="#000" stroke-width="0.95"/>
<circle cx="379.3" cy="454.2" r="2.8" fill="#fff" stroke="#000" stroke-width="0.95"/>
<circle cx="381.2" cy="457.0" r="2.8" fill="#fff" stroke="#000" stroke-width="0.95"/>
<circle cx="391.3" cy="480.0" r="2.8" fill="#fff" stroke="#000" stroke-width="0.95"/>
<circle cx="392.8" cy="480.9" r="2.8" fill="#fff" stroke="#000" stroke-width="0.95"/>
<circle cx="394.6" cy="479.7" r="2.8" fill="#fff" stroke="#000" stroke-width="0.95"/>
<circle cx="395.9" cy="482.8" r="2.8" fill="#fff" stroke="#000" stroke-width="0.95"/>
<circle cx="394.1" cy="483.3" r="2.8" fill="#fff" stroke="#000" stroke-width="0.95"/>
<circle cx="397.4" cy="483.7" r="2.8" fill="#fff" stroke="#000" stroke-width="0.95"/>
<circle cx="413.4" cy="473.6" r="2.8" fill="#fff" stroke="#000" stroke-width="0.95"/>
<circle cx="407.5" cy="477.3" r="2.8" fill="#fff" stroke="#000" stroke-width="0.95"/>
<circle cx="410.7" cy="477.3" r="2.8" fill="#fff" stroke="#000" stroke-width="0.95"/>
<circle cx="407.5" cy="482.2" r="2.8" fill="#fff" stroke="#000" stroke-width="0.95"/>
<circle cx="411.6" cy="484.6" r="2.8" fill="#fff" stroke="#000" stroke-width="0.95"/>
<circle cx="413.8" cy="486.5" r="2.8" fill="#fff" stroke="#000" stroke-width="0.95"/>
<circle cx="426.7" cy="453.9" r="2.8" fill="#fff" stroke="#000" stroke-width="0.95"/>
<circle cx="424.9" cy="455.7" r="2.8" fill="#fff" stroke="#000" stroke-width="0.95"/>
<circle cx="424.1" cy="458.8" r="2.8" fill="#fff" stroke="#000" stroke-width="0.95"/>
<circle cx="426.0" cy="461.6" r="2.8" fill="#fff" stroke="#000" stroke-width="0.95"/>
<circle cx="428.2" cy="464.4" r="2.8" fill="#fff" stroke="#000" stroke-width="0.95"/>
<circle cx="429.7" cy="466.8" r="2.8" fill="#fff" stroke="#000" stroke-width="0.95"/>
<circle cx="449.3" cy="478.2" r="2.8" fill="#fff" stroke="#000" stroke-width="0.95"/>
<circle cx="449.3" cy="489.6" r="2.8" fill="#fff" stroke="#000" stroke-width="0.95"/>
<circle cx="446.2" cy="493.3" r="2.8" fill="#fff" stroke="#000" stroke-width="0.95"/>
<circle cx="448.4" cy="495.1" r="2.8" fill="#fff" stroke="#000" stroke-width="0.95"/>
<circle cx="451.2" cy="496.6" r="2.8" fill="#fff" stroke="#000" stroke-width="0.95"/>
<circle cx="453.0" cy="498.1" r="2.8" fill="#fff" stroke="#000" stroke-width="0.95"/>
<circle cx="465.6" cy="496.6" r="2.8" fill="#fff" stroke="#000" stroke-width="0.95"/>
<circle cx="462.8" cy="505.8" r="2.8" fill="#fff" stroke="#000" stroke-width="0.95"/>
<circle cx="464.6" cy="507.3" r="2.8" fill="#fff" stroke="#000" stroke-width="0.95"/>
<circle cx="466.5" cy="508.6" r="2.8" fill="#fff" stroke="#000" stroke-width="0.95"/>
<circle cx="467.4" cy="509.5" r="2.8" fill="#fff" stroke="#000" stroke-width="0.95"/>
<circle cx="468.3" cy="510.4" r="2.8" fill="#fff" stroke="#000" stroke-width="0.95"/>
<circle cx="479.4" cy="507.1" r="2.8" fill="#fff" stroke="#000" stroke-width="0.95"/>
<circle cx="482.5" cy="507.1" r="2.8" fill="#fff" stroke="#000" stroke-width="0.95"/>
<circle cx="480.7" cy="508.6" r="2.8" fill="#fff" stroke="#000" stroke-width="0.95"/>
<circle cx="483.4" cy="509.5" r="2.8" fill="#fff" stroke="#000" stroke-width="0.95"/>
<circle cx="484.9" cy="511.0" r="2.8" fill="#fff" stroke="#000" stroke-width="0.95"/>
<circle cx="482.0" cy="509.0" r="2.8" fill="#fff" stroke="#000" stroke-width="0.95"/>
<circle cx="498.2" cy="483.7" r="2.8" fill="#fff" stroke="#000" stroke-width="0.95"/>
<circle cx="496.7" cy="493.8" r="2.8" fill="#fff" stroke="#000" stroke-width="0.95"/>
<circle cx="500.0" cy="495.1" r="2.8" fill="#fff" stroke="#000" stroke-width="0.95"/>
<circle cx="494.9" cy="499.7" r="2.8" fill="#fff" stroke="#000" stroke-width="0.95"/>
<circle cx="498.5" cy="502.1" r="2.8" fill="#fff" stroke="#000" stroke-width="0.95"/>
<circle cx="501.5" cy="504.9" r="2.8" fill="#fff" stroke="#000" stroke-width="0.95"/>
<path d="M378.20 446.90V436.50M375.20 436.50h6" stroke="#000" stroke-width="1.0" fill="none"/>
<path d="M394.40 481.90V479.30M391.40 479.30h6" stroke="#000" stroke-width="1.0" fill="none"/>
<path d="M410.50 480.90V474.50M407.50 474.50h6" stroke="#000" stroke-width="1.0" fill="none"/>
<path d="M426.90 460.70V454.50M423.90 454.50h6" stroke="#000" stroke-width="1.0" fill="none"/>
<path d="M449.60 492.90V483.70M446.60 483.70h6" stroke="#000" stroke-width="1.0" fill="none"/>
<path d="M465.70 506.70V501.20M462.70 501.20h6" stroke="#000" stroke-width="1.0" fill="none"/>
<path d="M481.90 510.40V507.30M478.90 507.30h6" stroke="#000" stroke-width="1.0" fill="none"/>
<path d="M498.10 497.50V489.60M495.10 489.60h6" stroke="#000" stroke-width="1.0" fill="none"/>
<text x="394.40" y="473.40" font-size="9.0" text-anchor="middle" font-weight="bold" fill="#000" textLength="10.65" lengthAdjust="spacingAndGlyphs">***</text>
<text x="410.50" y="466.90" font-size="9.0" text-anchor="middle" font-weight="bold" fill="#000" textLength="10.65" lengthAdjust="spacingAndGlyphs">***</text>
<text x="426.90" y="449.80" font-size="9.0" text-anchor="middle" font-weight="bold" fill="#000" textLength="10.65" lengthAdjust="spacingAndGlyphs">***</text>
<text x="465.70" y="494.00" font-size="9.0" text-anchor="middle" font-weight="bold" fill="#000" textLength="10.65" lengthAdjust="spacingAndGlyphs">***</text>
<text x="481.90" y="500.60" font-size="9.0" text-anchor="middle" font-weight="bold" fill="#000" textLength="10.65" lengthAdjust="spacingAndGlyphs">***</text>
<path d="M375.90 527.60h4.6M378.20 525.30v4.6" stroke="#2a2a2a" stroke-width="0.9" fill="none"/>
<path d="M393.30 528.10h2.2" stroke="#333" stroke-width="0.9" fill="none"/>
<path d="M409.40 528.10h2.2" stroke="#333" stroke-width="0.9" fill="none"/>
<path d="M425.80 528.10h2.2" stroke="#333" stroke-width="0.9" fill="none"/>
<path d="M447.30 527.60h4.6M449.60 525.30v4.6" stroke="#2a2a2a" stroke-width="0.9" fill="none"/>
<path d="M464.60 528.10h2.2" stroke="#333" stroke-width="0.9" fill="none"/>
<path d="M480.80 528.10h2.2" stroke="#333" stroke-width="0.9" fill="none"/>
<path d="M497.00 528.10h2.2" stroke="#333" stroke-width="0.9" fill="none"/>
<path d="M377.10 541.60h2.2" stroke="#333" stroke-width="0.9" fill="none"/>
<path d="M392.10 541.10h4.6M394.40 538.80v4.6" stroke="#2a2a2a" stroke-width="0.9" fill="none"/>
<path d="M409.40 541.60h2.2" stroke="#333" stroke-width="0.9" fill="none"/>
<path d="M425.80 541.60h2.2" stroke="#333" stroke-width="0.9" fill="none"/>
<path d="M448.50 541.60h2.2" stroke="#333" stroke-width="0.9" fill="none"/>
<path d="M463.40 541.10h4.6M465.70 538.80v4.6" stroke="#2a2a2a" stroke-width="0.9" fill="none"/>
<path d="M480.80 541.60h2.2" stroke="#333" stroke-width="0.9" fill="none"/>
<path d="M497.00 541.60h2.2" stroke="#333" stroke-width="0.9" fill="none"/>
<path d="M377.10 555.40h2.2" stroke="#333" stroke-width="0.9" fill="none"/>
<path d="M393.30 555.40h2.2" stroke="#333" stroke-width="0.9" fill="none"/>
<path d="M408.20 554.90h4.6M410.50 552.60v4.6" stroke="#2a2a2a" stroke-width="0.9" fill="none"/>
<path d="M425.80 555.40h2.2" stroke="#333" stroke-width="0.9" fill="none"/>
<path d="M448.50 555.40h2.2" stroke="#333" stroke-width="0.9" fill="none"/>
<path d="M464.60 555.40h2.2" stroke="#333" stroke-width="0.9" fill="none"/>
<path d="M479.60 554.90h4.6M481.90 552.60v4.6" stroke="#2a2a2a" stroke-width="0.9" fill="none"/>
<path d="M497.00 555.40h2.2" stroke="#333" stroke-width="0.9" fill="none"/>
<path d="M377.10 569.50h2.2" stroke="#333" stroke-width="0.9" fill="none"/>
<path d="M393.30 569.50h2.2" stroke="#333" stroke-width="0.9" fill="none"/>
<path d="M409.40 569.50h2.2" stroke="#333" stroke-width="0.9" fill="none"/>
<path d="M424.60 569.00h4.6M426.90 566.70v4.6" stroke="#2a2a2a" stroke-width="0.9" fill="none"/>
<path d="M448.50 569.50h2.2" stroke="#333" stroke-width="0.9" fill="none"/>
<path d="M464.60 569.50h2.2" stroke="#333" stroke-width="0.9" fill="none"/>
<path d="M480.80 569.50h2.2" stroke="#333" stroke-width="0.9" fill="none"/>
<path d="M495.80 569.00h4.6M498.10 566.70v4.6" stroke="#2a2a2a" stroke-width="0.9" fill="none"/>
<text x="331.20" y="530.80" font-size="8.7" text-anchor="start" font-weight="normal" fill="#0a0a0a" textLength="26.8" lengthAdjust="spacingAndGlyphs">DMSO</text>
<text x="292.00" y="544.30" font-size="8.7" text-anchor="start" font-weight="normal" fill="#0a0a0a" textLength="66.0" lengthAdjust="spacingAndGlyphs">50 nm Dasatinib</text>
<text x="314.60" y="558.10" font-size="8.7" text-anchor="start" font-weight="normal" fill="#0a0a0a" textLength="43.4" lengthAdjust="spacingAndGlyphs">10 µM PP1</text>
<text x="286.50" y="572.20" font-size="8.7" text-anchor="start" font-weight="normal" fill="#0a0a0a" textLength="71.5" lengthAdjust="spacingAndGlyphs">3 µM PRT-060318</text>
<rect x="369.5" y="576.95" width="67" height="1.7" fill="#555"/>
<rect x="441.1" y="576.95" width="67" height="1.7" fill="#555"/>
<text x="403.00" y="588.70" font-size="9" text-anchor="middle" font-weight="normal" fill="#0a0a0a" >WT</text>
<text x="474.80" y="588.70" font-size="9" text-anchor="middle" font-weight="normal" fill="#0a0a0a" >TKO</text>
</svg>
</div>
</body></html>
